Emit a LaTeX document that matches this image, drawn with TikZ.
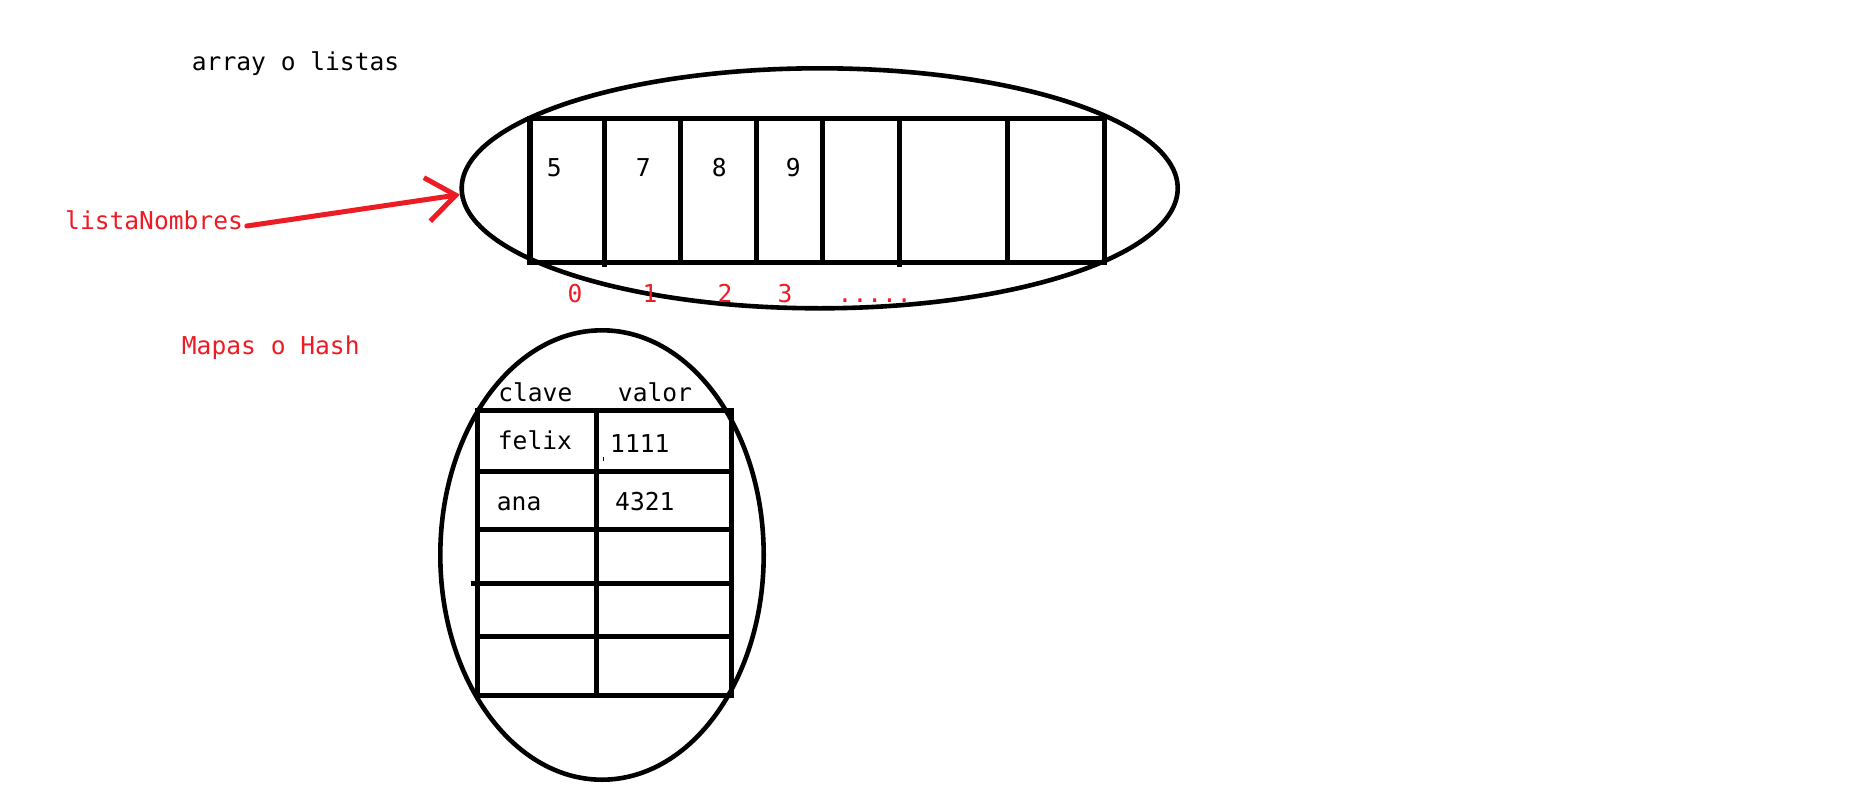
\documentclass[tikz,border=0pt]{standalone}
\usepackage{fontspec}
\newfontfamily\paintfont{DejaVu Sans Mono}
\usetikzlibrary{arrows.meta,shapes,positioning}
\definecolor{paintred}{RGB}{237,28,36}

\begin{document}
\begin{tikzpicture}[x=1pt,y=-1pt,
    ring/.style={draw, ellipse, line width=4.6pt, inner sep=0pt},
    painttext/.style={font=\paintfont\fontsize{24.6}{29}\selectfont, inner sep=0pt},
    redtext/.style={painttext, text=paintred},
    pointer/.style={draw=paintred, line width=5pt, line cap=round,
      -{Straight Barb[length=29pt,width=44pt]}}]
  % Definitions
  \pgfmathsetmacro{\arrL}{530}
  \pgfmathsetmacro{\arrR}{1104.3}
  \pgfmathsetmacro{\arrT}{118.3}
  \pgfmathsetmacro{\arrB}{262.3}
  \pgfmathsetmacro{\tabL}{477.3}
  \pgfmathsetmacro{\tabM}{596}
  \pgfmathsetmacro{\tabR}{731.7}

  \useasboundingbox (0,0) rectangle (1870,792);

  % titles
  \node[painttext, anchor=base west] (arraytitle) at (191.7,70.7) {array o listas};
  \node[redtext, anchor=base west] (listanombres) at (65,229) {listaNombres};
  \node[redtext, anchor=base west] (maptitle) at (181.7,354) {Mapas o Hash};

  % array
  \node[ring, minimum width=716pt, minimum height=240pt] (arrayring) at (819.7,188.3) {};
  \draw[line width=5.5pt] (\arrL,\arrT) rectangle (\arrR,\arrB);
  \begin{scope}[line width=4.5pt]
    \draw (604.3,\arrT) -- (604.3,266.5);
    \draw (680.7,\arrT) -- (680.7,\arrB);
    \draw (756.7,\arrT) -- (756.7,\arrB);
    \draw (822.7,\arrT) -- (822.7,\arrB);
    \draw (899.3,\arrT) -- (899.3,266.5);
    \draw (1007.3,\arrT) -- (1007.3,\arrB);
  \end{scope}

  % values and indices
  \node[painttext, anchor=base] (val5) at (554.3,176.7) {5};
  \node[painttext, anchor=base] (val7) at (643.3,176.7) {7};
  \node[painttext, anchor=base] (val8) at (719.3,176.7) {8};
  \node[painttext, anchor=base] (val9) at (793.3,176.7) {9};
  \node[redtext, anchor=base] (idx0) at (575,302.7) {0};
  \node[redtext, anchor=base] (idx1) at (650,302.7) {1};
  \node[redtext, anchor=base] (idx2) at (725,302.7) {2};
  \node[redtext, anchor=base] (idx3) at (785,302.7) {3};
  \node[redtext, anchor=base west] (idxdots) at (837.5,302.7) {.....};

  % pointer
  \draw[pointer] ([shift={(3.7,-3)}]listanombres.base east) -- (arrayring.181.5);

  % hash map
  \node[ring, minimum width=323.4pt, minimum height=449.4pt] (hashring) at (602,555) {};
  \begin{scope}[line width=5pt]
    \draw (\tabL,410) rectangle (\tabR,695.7);
    \draw (\tabM,410) -- (\tabM,695.7);
    \draw (\tabL,471.7) -- (734,471.7);
    \draw (\tabL,529) -- (\tabR,529);
    \draw (470.7,583.3) -- (\tabR,583.3);
    \draw (\tabL,636.7) -- (734,636.7);
  \end{scope}
  \draw[line width=1.5pt] (603.5,456.5) -- (603.5,460.5);

  \node[painttext, anchor=base] (clave) at (535.3,401) {clave};
  \node[painttext, anchor=base] (valor) at (655,401) {valor};
  \node[painttext, anchor=base west] (felix) at (497.7,449) {felix};
  \node[painttext, anchor=base west] (felixval) at (610,452.3) {1111};
  \node[painttext, anchor=base west] (ana) at (496.7,510.7) {ana};
  \node[painttext, anchor=base west] (anaval) at (615,510.7) {4321};
\end{tikzpicture}
\end{document}
